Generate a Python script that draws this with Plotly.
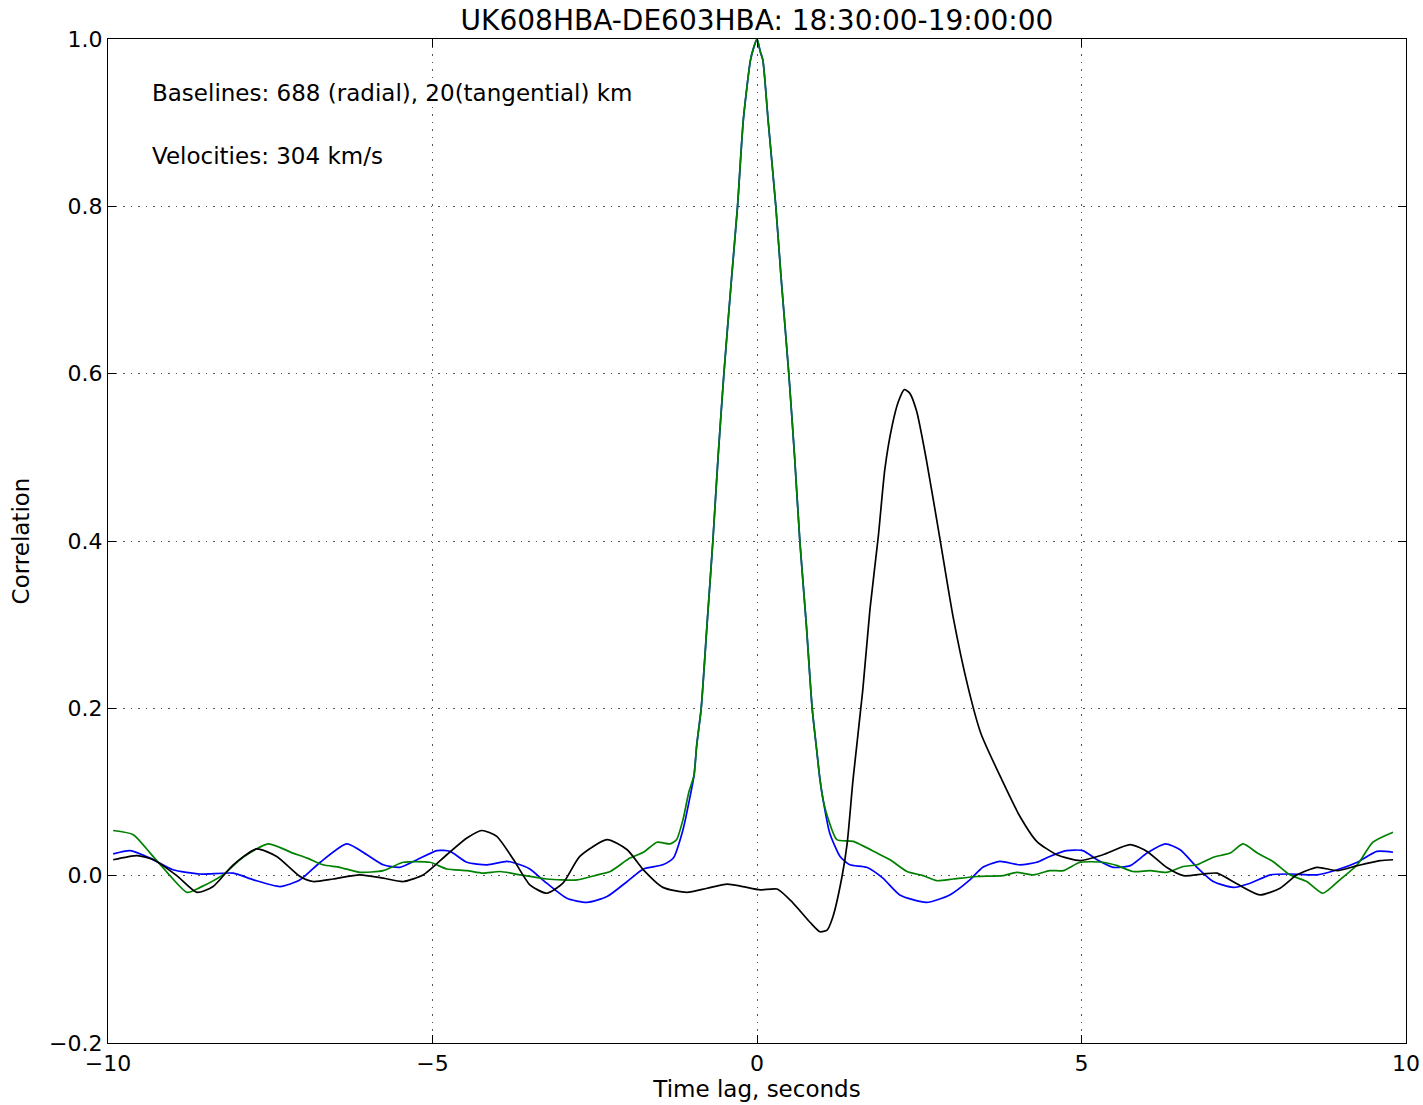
import plotly.graph_objects as go

# ---- data ----
peak_x = [-0.97, -0.93, -0.86, -0.77, -0.68, -0.60, -0.51, -0.39, -0.30, -0.21, -0.10, -0.05, 0.0,
          0.05, 0.09, 0.17, 0.29, 0.37, 0.49, 0.58, 0.66, 0.76, 0.85, 0.92, 0.97]
peak_y = [0.12, 0.155, 0.20, 0.30, 0.40, 0.50, 0.60, 0.716, 0.80, 0.904, 0.975, 0.99, 1.0,
          0.985, 0.975, 0.904, 0.80, 0.716, 0.60, 0.50, 0.40, 0.30, 0.20, 0.15, 0.115]

blue_left_x = [-9.92, -9.66, -9.35, -9.0, -8.58, -8.07, -7.76, -7.35, -7.04, -6.73, -6.32, -6.01,
               -5.76, -5.50, -5.24, -4.93, -4.73, -4.47, -4.16, -3.85, -3.65, -3.50, -3.24, -2.93,
               -2.62, -2.31, -2.00, -1.75, -1.45, -1.29, -1.14, -1.03]
blue_left_y = [0.026, 0.030, 0.021, 0.007, 0.002, 0.003, -0.005, -0.013, -0.005, 0.016, 0.038, 0.025,
               0.013, 0.010, 0.019, 0.030, 0.029, 0.016, 0.013, 0.017, 0.013, 0.008, -0.009, -0.027,
               -0.032, -0.025, -0.007, 0.008, 0.013, 0.021, 0.055, 0.095]
blue_right_x = [1.02, 1.12, 1.28, 1.43, 1.69, 1.94, 2.20, 2.61, 2.97, 3.28, 3.48, 3.74, 4.05, 4.31,
                4.51, 4.77, 5.02, 5.24, 5.49, 5.75, 6.01, 6.29, 6.52, 6.78, 7.03, 7.34, 7.60, 7.91,
                8.21, 8.63, 8.94, 9.25, 9.55, 9.80]
blue_right_y = [0.09, 0.051, 0.023, 0.013, 0.010, -0.003, -0.023, -0.032, -0.023, -0.005, 0.010, 0.017,
                0.013, 0.016, 0.023, 0.030, 0.030, 0.019, 0.010, 0.012, 0.027, 0.038, 0.031, 0.010,
                -0.007, -0.014, -0.009, 0.001, 0.002, 0.001, 0.007, 0.016, 0.029, 0.028]

green_left_x = [-9.92, -9.61, -9.35, -9.09, -8.78, -8.58, -8.23, -7.92, -7.53, -7.15, -6.93, -6.69,
                -6.43, -6.12, -5.76, -5.45, -5.04, -4.78, -4.47, -4.22, -3.96, -3.65, -3.24, -2.77,
                -2.46, -2.26, -1.96, -1.75, -1.54, -1.34, -1.24, -1.14, -1.05]
green_left_y = [0.054, 0.049, 0.027, 0.004, -0.020, -0.014, 0.001, 0.022, 0.038, 0.027, 0.021, 0.013,
                0.010, 0.004, 0.006, 0.016, 0.016, 0.008, 0.006, 0.003, 0.005, 0.001, -0.004, -0.005,
                0.001, 0.005, 0.021, 0.028, 0.040, 0.038, 0.043, 0.067, 0.100]
green_right_x = [1.02, 1.10, 1.23, 1.48, 1.85, 2.05, 2.31, 2.56, 2.77, 3.02, 3.39, 3.79, 4.00, 4.26,
                 4.51, 4.72, 4.98, 5.33, 5.55, 5.79, 6.06, 6.31, 6.57, 6.78, 7.03, 7.29, 7.49, 7.71,
                 7.95, 8.21, 8.47, 8.72, 8.98, 9.25, 9.49, 9.80]
green_right_y = [0.09, 0.067, 0.043, 0.041, 0.027, 0.019, 0.005, 0.000, -0.006, -0.004, -0.001, 0.000,
                 0.004, 0.001, 0.006, 0.006, 0.016, 0.016, 0.012, 0.005, 0.006, 0.004, 0.011, 0.013,
                 0.022, 0.027, 0.038, 0.027, 0.017, 0.001, -0.007, -0.021, -0.005, 0.013, 0.040, 0.052]

black_x = [-9.92, -9.55, -9.30, -8.94, -8.63, -8.38, -8.07, -7.71, -7.40, -7.04, -6.84, -6.53, -6.12,
           -5.76, -5.45, -5.14, -4.78, -4.47, -4.24, -4.01, -3.75, -3.50, -3.24, -2.99, -2.73, -2.31,
           -2.00, -1.75, -1.45, -1.08, -0.77, -0.46, -0.22, 0.05, 0.31, 0.56, 0.82, 0.97, 1.08, 1.17,
           1.31, 1.39, 1.48, 1.63, 1.74, 1.87, 1.97, 2.08, 2.18, 2.27, 2.35, 2.46, 2.61, 2.82, 3.02,
           3.25, 3.45, 3.77, 4.05, 4.31, 4.62, 4.98, 5.33, 5.75, 6.01, 6.31, 6.57, 6.87, 7.09, 7.40,
           7.75, 8.06, 8.32, 8.63, 8.94, 9.25, 9.60, 9.80]
black_y = [0.019, 0.024, 0.019, 0.000, -0.020, -0.013, 0.013, 0.032, 0.023, -0.001, -0.007, -0.004, 0.001,
           -0.003, -0.007, 0.001, 0.025, 0.045, 0.054, 0.047, 0.019, -0.011, -0.021, -0.009, 0.023, 0.043,
           0.031, 0.007, -0.014, -0.020, -0.015, -0.010, -0.013, -0.017, -0.016, -0.033, -0.056, -0.067,
           -0.065, -0.049, -0.001, 0.039, 0.115, 0.222, 0.318, 0.406, 0.486, 0.537, 0.567, 0.581, 0.577,
           0.555, 0.497, 0.402, 0.310, 0.226, 0.17, 0.115, 0.071, 0.041, 0.025, 0.018, 0.025, 0.037, 0.029,
           0.010, 0.000, 0.002, 0.003, -0.010, -0.023, -0.015, 0.001, 0.010, 0.006, 0.012, 0.018, 0.019]

title_text = "UK608HBA-DE603HBA: 18:30:00-19:00:00"
note_lines = ["Baselines: 688 (radial), 20(tangential) km", "Velocities: 304 km/s"]
x_ticks = [-10, -5, 0, 5, 10]
y_ticks = [-0.2, 0.0, 0.2, 0.4, 0.6, 0.8, 1.0]

blue_x = blue_left_x + peak_x + blue_right_x
blue_y = blue_left_y + peak_y + blue_right_y
green_x = green_left_x + peak_x + green_right_x
green_y = green_left_y + peak_y + green_right_y

FONT = "DejaVu Sans, Liberation Sans, sans-serif"

fig = go.Figure()
fig.add_trace(go.Scatter(x=blue_x, y=blue_y, mode="lines",
                         line=dict(color="#0000ff", width=1.7, shape="spline", smoothing=0.6),
                         showlegend=False))
fig.add_trace(go.Scatter(x=green_x, y=green_y, mode="lines",
                         line=dict(color="#008000", width=1.7, shape="spline", smoothing=0.6),
                         showlegend=False))
fig.add_trace(go.Scatter(x=black_x, y=black_y, mode="lines",
                         line=dict(color="#000000", width=1.7, shape="spline", smoothing=0.6),
                         showlegend=False))

axis_common = dict(
    showline=True, linecolor="black", linewidth=1.3, mirror="ticks",
    ticks="inside", ticklen=8, tickwidth=1, tickcolor="black",
    showgrid=True, gridcolor="#555555", gridwidth=1, griddash="1.5px,6px",
    zeroline=False, automargin=False,
    tickfont=dict(family=FONT, size=22, color="black"),
)

fig.update_xaxes(range=[-10, 10], tickvals=x_ticks,
                 title=dict(text="Time lag, seconds", font=dict(family=FONT, size=23, color="black"),
                            standoff=4),
                 **axis_common)
fig.update_yaxes(range=[-0.2, 1.0], tickvals=y_ticks, tickformat=".1f",
                 title=dict(text="Correlation", font=dict(family=FONT, size=23, color="black"),
                            standoff=12),
                 **axis_common)

fig.add_annotation(text=note_lines[0], xref="paper", yref="paper", x=0.032, y=0.946,
                   xanchor="left", yanchor="middle", showarrow=False,
                   font=dict(family=FONT, size=23, color="black"))
fig.add_annotation(text=note_lines[1], xref="paper", yref="paper", x=0.032, y=0.8835,
                   xanchor="left", yanchor="middle", showarrow=False,
                   font=dict(family=FONT, size=23, color="black"))

fig.update_layout(
    width=1423, height=1105,
    margin=dict(l=108, r=17, t=39, b=62),
    paper_bgcolor="white", plot_bgcolor="white",
    hovermode=False,
    title=dict(text=title_text, xref="paper", x=0.5, xanchor="center",
               yref="container", y=1 - 20 / 1105, yanchor="middle",
               font=dict(family=FONT, size=28, color="black")),
)

# remove the browser's default body margin so the figure fills the window exactly
fig.write_html("out.html",
               config={"displayModeBar": False},
               post_script="document.body.style.margin='0';document.body.style.overflow='hidden';")
